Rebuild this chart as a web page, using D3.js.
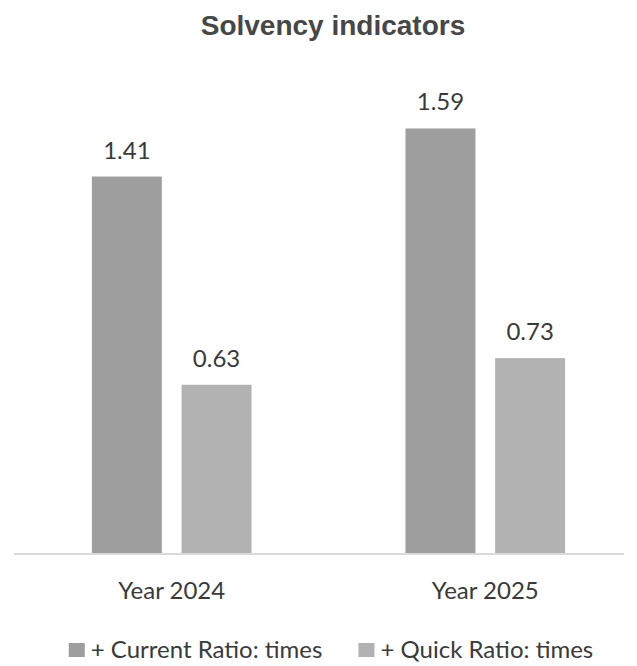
<!DOCTYPE html>
<html>
<head>
<meta charset="utf-8">
<script src="https://cdn.jsdelivr.net/npm/d3@7"></script>
<style>
  body { margin: 0; background: #fff; }
  svg { display: block; }
  .title { font-family: 'Liberation Sans', Arial, sans-serif; font-weight: bold; font-size: 28px; fill: #474747; }
  .lbl { font-family: Lato, 'Liberation Sans', sans-serif; fill: #3a3a3a; }
</style>
</head>
<body>
<svg id="chart" width="637" height="666"></svg>
<script>
  'use strict';

  // Chart data.
  var years  = [ 'Year 2024', 'Year 2025' ],
      series = [ '+ Current Ratio: times', '+ Quick Ratio: times' ],
      currentRatio = [ 1.41, 1.59 ],
      quickRatio   = [ 0.63, 0.73 ];

  var colors = [ '#9e9e9e', '#b2b2b2' ];

  var values = [ currentRatio, quickRatio ];

  var rows = years.map(function( year, i ) {
    return {
      year: year,
      bars: series.map(function( s, j ) {
        return { series: s, idx: j, value: values[ j ][ i ] };
      })
    };
  });

  var base = 553;

  var svg = d3.select( '#chart' );

  var x0 = d3.scaleBand()
    .domain( years )
    .range([ 16, 641 ])
    .paddingInner( 0.491 )
    .paddingOuter( 0.242 );

  var x1 = d3.scaleBand()
    .domain( series )
    .range([ 0, x0.bandwidth() ])
    .paddingInner( 0.22 );

  var y = d3.scaleLinear()
    .domain([ 0, 1.6 ])
    .range([ base, base - 267 * 1.6 ]);

  // Title.
  svg.append( 'text' )
    .attr( 'class', 'title' )
    .attr( 'x', 333 )
    .attr( 'y', 35 )
    .style( 'text-anchor', 'middle' )
    .text( 'Solvency indicators' );

  // Baseline.
  svg.append( 'line' )
    .attr( 'x1', 14 )
    .attr( 'x2', 624 )
    .attr( 'y1', base + 1 )
    .attr( 'y2', base + 1 )
    .style( 'stroke', '#dadada' )
    .style( 'stroke-width', 2 );

  var group = svg.selectAll( 'g.year' )
    .data( rows )
    .enter()
    .append( 'g' )
      .attr( 'class', 'year' )
      .attr( 'transform', function( d ) { return 'translate(' + x0( d.year ) + ',0)'; });

  var bar = group.selectAll( 'g.bar' )
    .data(function( d ) { return d.bars; })
    .enter()
    .append( 'g' )
      .attr( 'class', 'bar' );

  bar.append( 'rect' )
    .attr( 'x', function( d ) { return x1( d.series ); })
    .attr( 'y', function( d ) { return y( d.value ); })
    .attr( 'width', x1.bandwidth() )
    .attr( 'height', function( d ) { return base - y( d.value ); })
    .style( 'fill', function( d ) { return colors[ d.idx ]; });

  bar.append( 'text' )
    .attr( 'class', 'lbl' )
    .attr( 'x', function( d ) { return x1( d.series ) + x1.bandwidth() / 2; })
    .attr( 'y', function( d ) { return y( d.value ) - 18; })
    .style( 'font-size', '24px' )
    .style( 'text-anchor', 'middle' )
    .text(function( d ) { return d.value.toFixed( 2 ); });

  // Category labels.
  group.append( 'text' )
    .attr( 'class', 'lbl' )
    .attr( 'x', x0.bandwidth() / 2 )
    .attr( 'y', 599 )
    .style( 'font-size', '24px' )
    .style( 'text-anchor', 'middle' )
    .text(function( d ) { return d.year; });

  // Legend.
  var legend = svg.append( 'g' );
  var offset = 0;
  series.forEach(function( s, j ) {
    var item = legend.append( 'g' )
      .attr( 'transform', 'translate(' + offset + ',0)' );
    item.append( 'rect' )
      .attr( 'x', 0 )
      .attr( 'y', 643 )
      .attr( 'width', 16 )
      .attr( 'height', 14 )
      .style( 'fill', colors[ j ] );
    var t = item.append( 'text' )
      .attr( 'class', 'lbl' )
      .attr( 'x', 22 )
      .attr( 'y', 658 )
      .style( 'font-size', '24px' )
      .text( s );
    offset += 22 + t.node().getComputedTextLength() + 36;
  });
  var legendWidth = offset - 36;
  legend.attr( 'transform', 'translate(' + ( 331 - legendWidth / 2 ) + ',0)' );
</script>
</body>
</html>
